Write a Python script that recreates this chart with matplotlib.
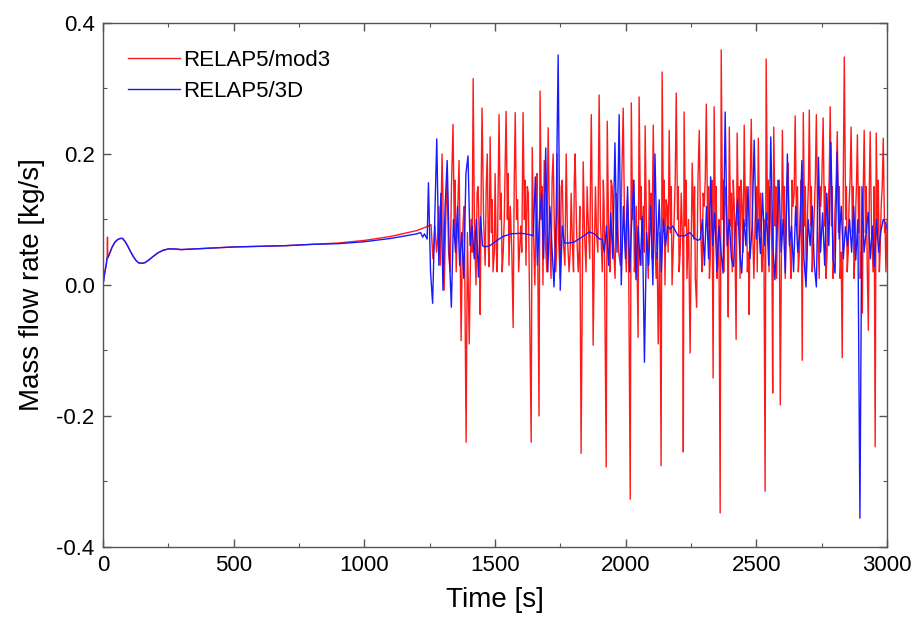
import numpy as np
import matplotlib
matplotlib.use("Agg")
import matplotlib.pyplot as plt
from matplotlib.ticker import MultipleLocator

plt.rcParams['font.family'] = ['Liberation Sans', 'DejaVu Sans']

# ---------------- data ----------------
# start-up transient shared shape
early_t = [0, 4, 8, 12, 15, 19, 25, 35, 45, 55, 65, 75, 85, 95, 105, 115, 125, 135, 148, 160, 175,
           190, 210, 230, 250, 270, 300, 350, 400, 500, 600, 700, 800]
early_v = [0.0, 0.012, 0.022, 0.030, 0.040, 0.042, 0.048, 0.058, 0.065, 0.069, 0.071, 0.071, 0.066,
           0.059, 0.051, 0.044, 0.038, 0.034, 0.033, 0.034, 0.038, 0.043, 0.049, 0.053, 0.055, 0.055,
           0.054, 0.055, 0.056, 0.058, 0.059, 0.060, 0.062]

# RELAP5/mod3 (red)
red_spike_t = [16, 17, 18]
red_spike_v = [0.045, 0.073, 0.043]
red_t = [900, 1000, 1100, 1200, 1240, 1255,
         1262, 1270, 1276, 1285, 1290, 1297, 1302, 1305, 1310, 1316, 1322, 1328, 1339, 1344, 1351,
         1362, 1366, 1370, 1378, 1382, 1389, 1394, 1401, 1408, 1416, 1421, 1427, 1435, 1440, 1443,
         1450, 1456, 1462, 1470, 1474, 1477, 1481, 1486, 1492, 1500, 1504, 1508, 1515, 1520, 1527,
         1535, 1542, 1547, 1553, 1558, 1564, 1569, 1577, 1582, 1590, 1598, 1607, 1612, 1618, 1623,
         1630, 1638, 1642, 1647, 1652, 1657, 1663, 1668, 1672, 1677, 1683, 1688, 1693, 1698, 1703,
         1708, 1714, 1722, 1727, 1732, 1737, 1743, 1749, 1757, 1762, 1767, 1772, 1777, 1783, 1791,
         1796, 1800, 1806, 1812, 1818, 1824, 1829, 1837, 1842, 1848, 1856, 1862, 1868, 1872, 1875,
         1880, 1888, 1898, 1903, 1910, 1917, 1925, 1929, 1934, 1940, 1948, 1953, 1959, 1967, 1973,
         1979, 1990, 1995, 2002, 2010, 2017, 2021, 2026, 2033, 2040, 2047, 2051, 2056, 2062, 2067,
         2074, 2079, 2086, 2093, 2100, 2105, 2110, 2116, 2124, 2130, 2135, 2139, 2144, 2150, 2158,
         2166, 2171, 2177, 2185, 2193, 2198, 2204, 2212, 2218, 2220, 2223, 2228, 2234, 2240, 2246,
         2254, 2260, 2266, 2271, 2281, 2286, 2292, 2300, 2308, 2313, 2320, 2326, 2334, 2338, 2343,
         2349, 2356, 2361, 2365, 2370, 2376, 2385, 2392, 2396, 2401, 2407, 2415, 2422, 2426, 2431,
         2437, 2445, 2453, 2458, 2465, 2472, 2480, 2485, 2490, 2495, 2503, 2507, 2512, 2520, 2528,
         2533, 2537, 2542, 2548, 2556, 2562, 2566, 2571, 2577, 2585, 2591, 2599, 2604, 2610, 2614,
         2621, 2626, 2632, 2640, 2648, 2653, 2660, 2668, 2675, 2679, 2684, 2690, 2696, 2702, 2707,
         2713, 2720, 2729, 2734, 2740, 2746, 2755, 2760, 2766, 2774, 2782, 2787, 2793, 2800, 2809,
         2814, 2820, 2828, 2836, 2841, 2847, 2854, 2862, 2867, 2873, 2880, 2886, 2891, 2897, 2905,
         2912, 2917, 2924, 2928, 2935, 2940, 2946, 2954, 2958, 2963, 2970, 2977, 2985, 2990, 2995,
         3000]
red_v = [0.064, 0.068, 0.074, 0.083, 0.089, 0.092,
         0.04, 0.09, 0.05, 0.12, 0.03, 0.20, 0.06, -0.008, 0.08, 0.17, 0.05, 0.02, 0.245, 0.08, 0.02,
         0.19, 0.06, -0.085, 0.10, 0.12, -0.24, 0.08, -0.09, 0.10, 0.315, 0.08, 0.0, 0.15, 0.06, -0.045,
         0.27, 0.10, 0.03, 0.20, 0.06, 0.028, 0.226, 0.08, 0.02, 0.17, 0.06, 0.02, 0.26, 0.10, 0.02,
         0.10, 0.265, 0.10, 0.03, 0.12, 0.05, -0.065, 0.263, 0.10, 0.02, 0.09, 0.263, 0.10, 0.03, 0.15,
         0.04, -0.24, 0.21, 0.08, 0.0, 0.12, 0.05, -0.20, 0.296, 0.10, 0.0, 0.19, 0.06, 0.02, 0.24,
         0.09, 0.01, 0.20, 0.08, 0.02, 0.20, 0.07, 0.01, 0.16, 0.06, 0.03, 0.20, 0.07, 0.02, 0.14,
         0.06, 0.02, 0.20, 0.08, 0.02, 0.12, -0.257, 0.188, 0.08, 0.02, 0.10, 0.04, 0.26, 0.10, -0.092,
         0.06, 0.08, 0.29, 0.10, 0.02, 0.12, -0.278, 0.25, 0.09, 0.02, 0.15, 0.06, 0.01, 0.12, 0.05,
         0.03, 0.27, 0.10, 0.02, 0.09, -0.327, 0.278, 0.10, 0.02, 0.12, -0.08, 0.287, 0.10, 0.03, 0.12,
         0.243, 0.09, 0.01, 0.10, 0.04, 0.244, 0.09, 0.01, -0.09, 0.08, -0.276, 0.325, 0.09, 0.0, 0.12,
         0.236, 0.08, 0.0, 0.10, 0.293, 0.10, 0.02, 0.14, 0.06, -0.255, 0.264, 0.09, 0.01, 0.10, -0.104,
         0.186, 0.07, 0.01, -0.034, 0.236, 0.09, 0.02, 0.12, 0.276, 0.09, 0.01, 0.10, -0.142, 0.272, 0.09,
         0.01, 0.10, -0.348, 0.359, 0.10, 0.02, 0.12, -0.049, 0.241, 0.09, 0.02, 0.12, -0.083, 0.232, 0.09,
         0.01, 0.12, 0.244, 0.09, 0.02, -0.045, 0.253, 0.09, 0.01, 0.10, 0.02, 0.224, 0.08, 0.02, 0.10,
         -0.315, 0.345, 0.10, 0.02, 0.10, -0.165, 0.241, 0.09, 0.01, 0.10, -0.183, 0.236, 0.09, 0.01, 0.10,
         0.186, 0.07, 0.01, 0.12, 0.258, 0.09, 0.02, 0.10, -0.115, 0.263, 0.09, 0.01, 0.12, 0.267, 0.09,
         0.02, 0.10, 0.26, 0.09, 0.01, 0.12, 0.255, 0.09, 0.01, 0.12, 0.272, 0.09, 0.01, 0.11, 0.234,
         0.08, 0.01, -0.111, 0.348, 0.10, 0.02, 0.12, 0.241, 0.08, 0.01, 0.12, 0.229, 0.08, 0.01, -0.043,
         0.236, 0.08, 0.02, -0.069, 0.234, 0.08, 0.02, -0.247, 0.232, 0.08, 0.02, 0.12, 0.224, 0.08, 0.02,
         0.10]
# secondary wiggles of the red trace between its main spikes
red_extra_t = [1280, 1300, 1333, 1347, 1374, 1412, 1431, 1447, 1466, 1489, 1497, 1512, 1523, 1531,
               1550, 1573, 1586, 1602, 1615, 1627, 1660, 1680, 1700, 1718, 1735, 1753, 1770, 1787,
               1803, 1821, 1852, 1865, 1884, 1893, 1914, 1937, 1944, 1963, 1984, 2006, 2029, 2037,
               2059, 2071, 2090, 2097, 2120, 2147, 2154, 2162, 2174, 2181, 2189, 2201, 2208, 2231,
               2250, 2263, 2276, 2289, 2296, 2304, 2317, 2323, 2330, 2346, 2353, 2373, 2380, 2389,
               2404, 2411, 2418, 2434, 2441, 2449, 2462, 2469, 2476, 2500, 2516, 2524, 2545, 2552,
               2559, 2574, 2582, 2588, 2607, 2617, 2629, 2636, 2644, 2657, 2664, 2671, 2687, 2693,
               2699, 2710, 2716, 2725, 2737, 2743, 2750, 2763, 2770, 2778, 2790, 2797, 2805, 2817,
               2824, 2832, 2844, 2851, 2858, 2870, 2877, 2883, 2894, 2901, 2909, 2920, 2932, 2943,
               2950, 2966, 2973, 2981, 2992]
red_extra_v = [0.07, 0.14, 0.15, 0.16, 0.04, 0.05, 0.14, 0.16, 0.15, 0.13, 0.05, 0.16, 0.14, 0.05,
               0.17, 0.15, 0.13, 0.05, 0.16, 0.14, 0.17, 0.15, 0.13, 0.16, 0.05, 0.15, 0.14, 0.05,
               0.16, 0.05, 0.15, 0.16, 0.15, 0.05, 0.16, 0.05, 0.16, 0.14, 0.15, 0.13, 0.16, 0.05,
               0.15, 0.05, 0.16, 0.14, 0.05, 0.16, 0.13, 0.05, 0.15, 0.05, 0.16, 0.15, 0.05, 0.16,
               0.05, 0.15, 0.16, 0.05, 0.14, 0.16, 0.15, 0.04, 0.16, 0.15, 0.05, 0.16, 0.15, 0.05,
               0.14, 0.16, 0.05, 0.15, 0.16, 0.05, 0.15, 0.05, 0.16, 0.15, 0.14, 0.05, 0.16, 0.15,
               0.05, 0.15, 0.16, 0.05, 0.15, 0.16, 0.05, 0.16, 0.14, 0.15, 0.05, 0.16, 0.15, 0.05,
               0.16, 0.15, 0.05, 0.16, 0.05, 0.15, 0.16, 0.15, 0.05, 0.16, 0.15, 0.05, 0.16, 0.15,
               0.05, 0.16, 0.15, 0.05, 0.16, 0.15, 0.05, 0.16, 0.15, 0.05, 0.16, 0.15, 0.16, 0.05,
               0.15, 0.16, 0.05, 0.15, 0.09]

# RELAP5/3D (blue): smooth parts as vertices, oscillating parts as values on an even time grid
blue_smooth0_t = [900, 1000, 1100, 1200, 1215, 1223, 1230, 1240]
blue_smooth0_v = [0.063, 0.066, 0.071, 0.078, 0.080, 0.073, 0.078, 0.070]
blue_a_span = (1245, 1460)
blue_a_v = [0.156, 0.02, -0.028, 0.10, 0.223, 0.03, 0.14, -0.008, 0.12, 0.19, 0.05, -0.034, 0.10, 0.05,
            0.12, 0.03, 0.08, 0.01, 0.17, 0.197, 0.06, 0.09, 0.04, 0.10, 0.012, 0.104, 0.06, 0.058]
blue_smooth1_t = [1480, 1500, 1530, 1560, 1600, 1630]
blue_smooth1_v = [0.060, 0.066, 0.074, 0.078, 0.079, 0.077]
blue_b_span = (1646, 1765)
blue_b_v = [0.075, 0.165, 0.03, 0.10, 0.14, 0.04, 0.209, 0.02, 0.12, 0.06, -0.003, 0.10, 0.351, -0.008,
            0.09, 0.064]
blue_smooth2_t = [1780, 1800, 1840, 1860, 1880, 1900]
blue_smooth2_v = [0.064, 0.065, 0.075, 0.081, 0.078, 0.070]
blue_c_span = (1910, 2160)
blue_c_v = [0.07, 0.05, 0.09, 0.03, 0.11, 0.04, 0.217, 0.05, 0.26, 0.0, 0.12, 0.04, 0.15, 0.02, 0.10,
            0.16, 0.008, 0.09, 0.03, 0.104, -0.118, 0.08, 0.03, 0.12, 0.0, 0.2, 0.04, 0.13, 0.02, 0.10,
            0.06, 0.09]
blue_smooth3_t = [2170, 2180, 2200, 2225, 2245, 2262, 2275]
blue_smooth3_v = [0.085, 0.090, 0.075, 0.075, 0.080, 0.072, 0.068]
blue_d_span = (2285, 2975)
blue_d_v = [0.07, 0.10, 0.03, 0.12, 0.04, 0.165, 0.06, 0.11, 0.02, 0.09, 0.05, 0.018, 0.264, 0.06, 0.10,
            0.04, 0.028, 0.09, 0.13, 0.05, 0.018, 0.10, 0.06, 0.15, 0.04, 0.09, 0.221, 0.07, 0.10, 0.048,
            0.14, 0.06, 0.11, 0.03, 0.226, 0.06, 0.008, 0.09, 0.16, 0.05, 0.10, 0.018, 0.2, 0.06, 0.09,
            0.02, 0.12, 0.05, 0.08, 0.19, 0.04, -0.003, 0.10, 0.06, 0.12, 0.03, -0.003, 0.195, 0.05, 0.11,
            0.03, 0.14, 0.06, 0.218, 0.04, 0.018, 0.203, 0.07, 0.12, 0.04, 0.089, 0.06, 0.10, 0.05, 0.12,
            0.038, 0.10, -0.356, 0.15, 0.05, 0.08, 0.111, 0.04, 0.09, 0.028, 0.10, 0.05, 0.08]
blue_smooth4_t = [2985, 2993, 3000]
blue_smooth4_v = [0.100, 0.095, 0.085]

series_labels = ["RELAP5/mod3", "RELAP5/3D"]
x_label = "Time [s]"
y_label = "Mass flow rate [kg/s]"

# ---------------- assemble ----------------
def grid(span, vals):
    return list(np.linspace(span[0], span[1], len(vals))), list(vals)

def merge(parts):
    t, v = [], []
    for pt, pv in parts:
        t += list(pt)
        v += list(pv)
    order = np.argsort(t, kind="stable")
    return np.asarray(t)[order], np.asarray(v)[order]

red_T, red_V = merge([(early_t, early_v), (red_spike_t, red_spike_v), (red_t, red_v),
                      (red_extra_t, red_extra_v)])
blue_T, blue_V = merge([(early_t, early_v), (blue_smooth0_t, blue_smooth0_v),
                        grid(blue_a_span, blue_a_v), (blue_smooth1_t, blue_smooth1_v),
                        grid(blue_b_span, blue_b_v), (blue_smooth2_t, blue_smooth2_v),
                        grid(blue_c_span, blue_c_v), (blue_smooth3_t, blue_smooth3_v),
                        grid(blue_d_span, blue_d_v), (blue_smooth4_t, blue_smooth4_v)])

# ---------------- plot ----------------
fig = plt.figure(figsize=(9.15, 6.28), dpi=100)
ax = fig.add_axes([0.1126, 0.129, 0.857, 0.8345])

ax.plot(red_T, red_V, color="#ff1a1a", lw=1.0, label=series_labels[0])
ax.plot(blue_T, blue_V, color="#1a1aff", lw=1.0, label=series_labels[1])

ax.set_xlim(0, 3000)
ax.set_ylim(-0.4, 0.4)
ax.xaxis.set_major_locator(MultipleLocator(500))
ax.xaxis.set_minor_locator(MultipleLocator(250))
ax.yaxis.set_major_locator(MultipleLocator(0.2))
ax.yaxis.set_minor_locator(MultipleLocator(0.1))
ax.set_xticks([0, 500, 1000, 1500, 2000, 2500, 3000])
ax.set_xticklabels(["0", "500", "1000", "1500", "2000", "2500", "3000"])
ax.set_yticks([-0.4, -0.2, 0.0, 0.2, 0.4])
ax.set_yticklabels(["-0.4", "-0.2", "0.0", "0.2", "0.4"])

ax.tick_params(which="both", direction="in", top=True, right=True, color="#555555")
ax.tick_params(which="major", length=6, width=1, labelsize=16, pad=6)
ax.tick_params(which="minor", length=3, width=0.8)
for s in ax.spines.values():
    s.set_color("#555555")
    s.set_linewidth(1.0)

ax.set_xlabel(x_label, fontsize=20, labelpad=8)
ax.set_ylabel(y_label, fontsize=20, labelpad=8)

leg = ax.legend(loc="upper left", frameon=False, fontsize=16, handlelength=2.35,
                handletextpad=0.15, labelspacing=0.44, borderaxespad=0.0,
                bbox_to_anchor=(0.0204, 0.9655))

fig.savefig("out.png", dpi=100)
